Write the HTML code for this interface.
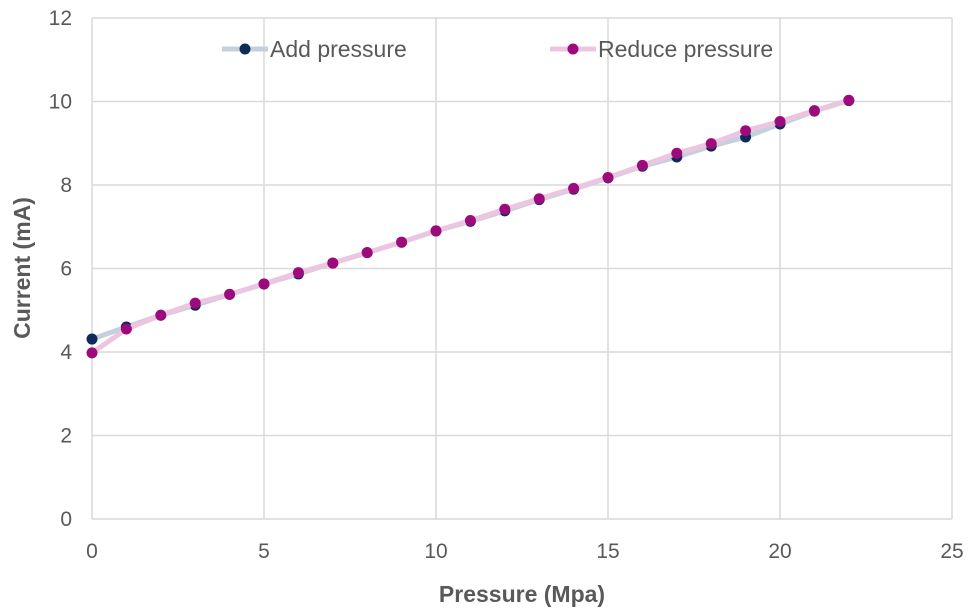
<!DOCTYPE html>
<html><head><meta charset="utf-8"><style>
body{margin:0;background:#fff;}
svg{display:block;font-family:"Liberation Sans",sans-serif;}
</style></head><body>
<svg id="chart" width="975" height="613"></svg>
<script>
const xTicks=[0,5,10,15,20,25];
const yTicks=[0,2,4,6,8,10,12];
const pressure=[0,1,2,3,4,5,6,7,8,9,10,11,12,13,14,15,16,17,18,19,20,21,22];
const addPressure=[4.31,4.6,4.88,5.12,5.38,5.63,5.87,6.13,6.38,6.63,6.9,7.13,7.38,7.65,7.9,8.17,8.45,8.67,8.93,9.15,9.46,9.77,10.02];
const reducePressure=[3.98,4.55,4.88,5.17,5.38,5.63,5.9,6.13,6.38,6.63,6.9,7.15,7.42,7.67,7.92,8.18,8.47,8.76,8.99,9.3,9.52,9.78,10.03];
const NS="http://www.w3.org/2000/svg";
const svg=document.getElementById('chart');
const X0=92,X1=952,Y0=519,Y1=18;
const sx=v=>X0+(v-0)/(25-0)*(X1-X0);
const sy=v=>Y0-(v-0)/(12-0)*(Y0-Y1);
function mk(t,a,p){const e=document.createElementNS(NS,t);for(const k in a)e.setAttribute(k,a[k]);(p||svg).appendChild(e);return e;}
xTicks.forEach(t=>{
 const l=mk('line',{x1:sx(t),x2:sx(t),y1:Y1,y2:Y0,stroke:'#d9d9d9','stroke-width':1.5});
 
 
 const tx=mk('text',{x:sx(t),y:Y0+39,'text-anchor':'middle','font-size':21,fill:'#595959'});
 tx.textContent=t;
 
 
});
yTicks.forEach(t=>{
 const l=mk('line',{x1:X0,x2:X1,y1:sy(t),y2:sy(t),stroke:'#d9d9d9','stroke-width':1.5});
 
 
 const tx=mk('text',{x:X0-20,y:sy(t)+7,'text-anchor':'end','font-size':21,fill:'#595959'});
 tx.textContent=t;
 
 
});
function series(vals,lineCol,dotCol,name){
 const p=mk('polyline',{points:pressure.map((x,i)=>sx(x)+','+sy(vals[i])).join(' '),fill:'none',stroke:lineCol,'stroke-width':5,'stroke-linejoin':'round'});
 
 
 pressure.forEach((x,i)=>{
  const c=mk('circle',{cx:sx(x),cy:sy(vals[i]),r:5.5,fill:dotCol});
  
  
 });
}
series(addPressure,'#c4d0dc','#0e2a5a','add-pressure');
series(reducePressure,'#ecc6e0','#9c0a7c','reduce-pressure');
function legend(x,text,lineCol,dotCol,name){
 const g=mk('g',{});
 
 
 mk('line',{x1:x,x2:x+46,y1:49,y2:49,stroke:lineCol,'stroke-width':5},g);
 mk('circle',{cx:x+23,cy:49,r:5.5,fill:dotCol},g);
 const t=mk('text',{x:x+48,y:57,'font-size':23,fill:'#595959'},g);t.textContent=text;
}
legend(222,'Add pressure','#c4d0dc','#0e2a5a','add-pressure');
legend(550,'Reduce pressure','#ecc6e0','#9c0a7c','reduce-pressure');
const xt=mk('text',{x:522,y:602,'text-anchor':'middle','font-size':23,'font-weight':'bold',fill:'#595959'});
xt.textContent='Pressure (Mpa)';


const yt=mk('text',{x:0,y:0,'text-anchor':'middle','font-size':23,'font-weight':'bold',fill:'#595959',transform:'translate(30,268) rotate(-90)'});
yt.textContent='Current (mA)';


</script>
</body></html>
